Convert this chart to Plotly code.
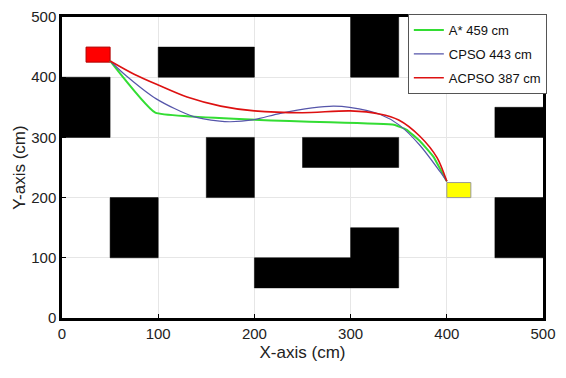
import plotly.graph_objects as go

# Obstacles (x0, x1, y0, y1) in cm
obs_x0 = [300, 100, 0, 150, 250, 450, 50, 200, 300, 450]
obs_x1 = [350, 200, 50, 200, 350, 500, 100, 300, 350, 500]
obs_y0 = [400, 400, 300, 200, 250, 300, 100, 50, 50, 100]
obs_y1 = [500, 450, 400, 300, 300, 350, 200, 100, 150, 200]

start_box = [25, 50, 425, 450]
goal_box = [400, 425, 200, 225]

# Paths
astar_x = [50, 97, 345, 358, 372, 386, 400]
astar_y = [427, 341, 321, 313, 294, 268, 227]

cpso_x = [50, 67, 98, 136, 164, 175, 198, 227, 260, 282, 299, 331, 351, 372, 393, 400]
cpso_y = [427, 402, 364, 335, 327, 326, 329, 340, 349, 352, 350, 338, 320, 287, 243, 227]

acpso_x = [50, 75, 100, 130, 165, 200, 250, 300, 330, 350, 372, 390, 400]
acpso_y = [427, 405, 387, 367, 352, 344, 341, 344, 339, 329, 302, 266, 227]

names = ["A* 459 cm", "CPSO 443 cm", "ACPSO 387 cm"]
colors = ["#33dd33", "#5555aa", "#dd1111"]
x_ticks = [0, 100, 200, 300, 400, 500]
y_ticks = [0, 100, 200, 300, 400, 500]

FONT = "Liberation Sans, Arial, sans-serif"


def rect_path(x0, x1, y0, y1):
    return [x0, x1, x1, x0, x0, None], [y0, y0, y1, y1, y0, None]


fig = go.Figure()

# obstacles as filled polygons (above grid, below paths)
ox, oy = [], []
for x0, x1, y0, y1 in zip(obs_x0, obs_x1, obs_y0, obs_y1):
    px, py = rect_path(x0, x1, y0, y1)
    ox += px
    oy += py
fig.add_trace(go.Scatter(x=ox, y=oy, mode="lines", fill="toself", fillcolor="black",
                         line=dict(color="black", width=0.5), showlegend=False,
                         hoverinfo="skip"))
sx, sy = rect_path(*start_box)
fig.add_trace(go.Scatter(x=sx, y=sy, mode="lines", fill="toself", fillcolor="#ff0000",
                         line=dict(color="#b00000", width=1), showlegend=False,
                         hoverinfo="skip"))
gx, gy = rect_path(*goal_box)
fig.add_trace(go.Scatter(x=gx, y=gy, mode="lines", fill="toself", fillcolor="#ffff00",
                         line=dict(color="#999999", width=1), showlegend=False,
                         hoverinfo="skip"))

fig.add_trace(go.Scatter(x=astar_x, y=astar_y, mode="lines", name=names[0], legendgroup="a",
                         line=dict(color=colors[0], width=2, shape="spline", smoothing=0.3)))
fig.add_trace(go.Scatter(x=cpso_x, y=cpso_y, mode="lines", name=names[1], legendgroup="b",
                         line=dict(color=colors[1], width=1.2, shape="spline", smoothing=0.8)))
fig.add_trace(go.Scatter(x=acpso_x, y=acpso_y, mode="lines", name=names[2], legendgroup="c",
                         line=dict(color=colors[2], width=1.6, shape="spline", smoothing=0.8)))

fig.update_layout(
    width=558, height=370,
    margin=dict(l=54, r=23, t=9, b=60, autoexpand=False),
    paper_bgcolor="white", plot_bgcolor="white",
    font=dict(family=FONT, size=15, color="#222222"),
    showlegend=True,
    legend=dict(x=0.719, y=1.01, xanchor="left", yanchor="top",
                bgcolor="white", bordercolor="#555555", borderwidth=1,
                font=dict(family=FONT, size=13, color="#111111"),
                itemwidth=30, tracegroupgap=4),
)
fig.update_xaxes(range=[0, 500], tickvals=x_ticks, ticktext=[str(v) for v in x_ticks],
                 showgrid=True, gridcolor="#e6e6e6", gridwidth=1,
                 showline=True, linecolor="black", linewidth=2.5, mirror=True,
                 ticks="inside", ticklen=4, tickcolor="black", zeroline=False,
                 automargin=False, ticklabeloverflow="allow",
                 title=dict(text="X-axis (cm)", standoff=6, font=dict(size=17)))
fig.update_yaxes(range=[0, 500], tickvals=y_ticks, ticktext=[str(v) for v in y_ticks],
                 showgrid=True, gridcolor="#e6e6e6", gridwidth=1,
                 showline=True, linecolor="black", linewidth=2.5, mirror=True,
                 ticks="inside", ticklen=4, tickcolor="black", zeroline=False,
                 automargin=False, ticklabeloverflow="allow",
                 title=dict(text="Y-axis (cm)", standoff=2, font=dict(size=17)))

fig.write_html("out.html")
